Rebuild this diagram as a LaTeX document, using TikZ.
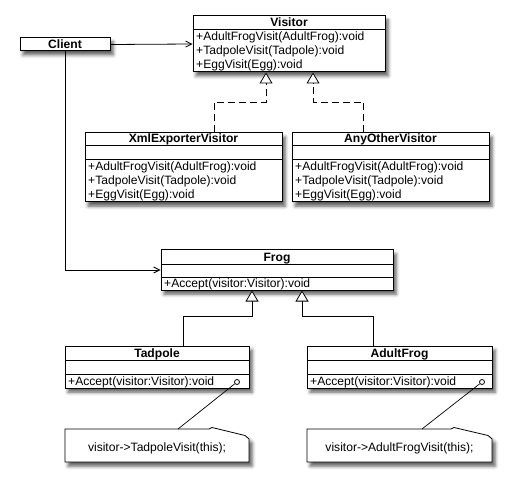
\documentclass[tikz,border=0pt]{standalone}
\usepackage{fontspec}
\setmainfont{Liberation Sans}
\usetikzlibrary{arrows.meta,shadows.blur}
\begin{document}
\begin{tikzpicture}[x=1pt,y=-1pt,
  shd/.style={blur shadow={shadow xshift=3pt,shadow yshift=-4pt,shadow blur radius=3.5pt,shadow opacity=65}},
  cls/.style={draw,fill=white,line width=1pt,inner sep=0pt,shd},
  sep/.style={line width=0.9pt},
  txt/.style={inner sep=0pt,font=\fontsize{12.1}{14}\selectfont},
  hd/.style={txt,font=\fontsize{12.1}{14}\selectfont\bfseries,anchor=base},
  op/.style={txt,anchor=base west},
  assoc/.style={line width=0.8pt,-{Straight Barb[length=6pt,width=6pt,line width=0.8pt]}},
  gen/.style={line width=0.8pt,-{Triangle[open,length=11pt,width=13pt,fill=white,line width=0.8pt]}},
  real/.style={gen,dash pattern=on 7pt off 4pt},
  notebox/.style={draw,fill=white,line width=0.8pt,shd},
  pin/.style={circle,draw,fill=white,inner sep=0pt,minimum size=5pt,line width=0.8pt}
]
\useasboundingbox (0,0) rectangle (511,486);

% Client
\node[cls,minimum width=90pt,minimum height=13pt] (client) at (65,44.5) {};
\node[hd] (clientT) at (65,48.5) {Client};

% Visitor
\node[cls,minimum width=192pt,minimum height=56pt] (visitor) at (289,44) {};
\draw[sep] (193,29) -- (385,29);
\node[hd] (visitorT) at (289,27) {Visitor};
\node[op] (v1) at (196,41) {+AdultFrogVisit(AdultFrog):void};
\node[op] (v2) at (196,54.8) {+TadpoleVisit(Tadpole):void};
\node[op] (v3) at (196,68.6) {+EggVisit(Egg):void};

% XmlExporterVisitor
\node[cls,minimum width=197pt,minimum height=69pt] (xml) at (183.5,167.5) {};
\draw[sep] (85,145) -- (282,145);
\draw[sep] (85,159) -- (282,159);
\node[hd] (xmlT) at (183.5,143) {XmlExporterVisitor};
\node[op] (x1) at (88,171) {+AdultFrogVisit(AdultFrog):void};
\node[op] (x2) at (88,185) {+TadpoleVisit(Tadpole):void};
\node[op] (x3) at (88,199) {+EggVisit(Egg):void};

% AnyOtherVisitor
\node[cls,minimum width=197pt,minimum height=69pt] (any) at (390.5,167.5) {};
\draw[sep] (292,145) -- (489,145);
\draw[sep] (292,159) -- (489,159);
\node[hd] (anyT) at (390.5,143) {AnyOtherVisitor};
\node[op] (a1) at (295,171) {+AdultFrogVisit(AdultFrog):void};
\node[op] (a2) at (295,185) {+TadpoleVisit(Tadpole):void};
\node[op] (a3) at (295,199) {+EggVisit(Egg):void};

% Frog
\node[cls,minimum width=232pt,minimum height=40pt] (frog) at (277,270) {};
\draw[sep] (161,264) -- (393,264);
\draw[sep] (161,277) -- (393,277);
\node[hd] (frogT) at (277,261.5) {Frog};
\node[op] (f1) at (164,287.5) {+Accept(visitor:Visitor):void};

% Tadpole
\node[cls,minimum width=184pt,minimum height=42pt] (tad) at (157,367) {};
\draw[sep] (65,360) -- (249,360);
\draw[sep] (65,374) -- (249,374);
\node[hd] (tadT) at (157,357.5) {Tadpole};
\node[op] (t1) at (68,385) {+Accept(visitor:Visitor):void};

% AdultFrog
\node[cls,minimum width=185pt,minimum height=42pt] (adult) at (399.5,367) {};
\draw[sep] (307,360) -- (492,360);
\draw[sep] (307,374) -- (492,374);
\node[hd] (adultT) at (399.5,357.5) {AdultFrog};
\node[op] (ad1) at (310,385) {+Accept(visitor:Visitor):void};

% Notes
\path[notebox] (65,429) -- (209,429) -- (212,427.5) -- (245,435.5) -- (249,439) -- (249,462) -- (65,462) -- cycle;
\node[txt,anchor=base] (tnote) at (157,451) {visitor->TadpoleVisit(this);};
\path[notebox] (307,429) -- (451,429) -- (454,427.5) -- (488,435.5) -- (492,439) -- (492,462) -- (307,462) -- cycle;
\node[txt,anchor=base] (anote) at (399.5,451) {visitor->AdultFrogVisit(this);};
\coordinate (tnoteTop) at (178,429);
\coordinate (anoteTop) at (422,429);

% Pins
\node[pin] (tpin) at (237,382) {};
\node[pin] (apin) at (482,382) {};
\draw[line width=0.7pt] (tpin) -- (tnoteTop);
\draw[line width=0.7pt] (apin) -- (anoteTop);

% Associations
\draw[assoc] (client.east) -- (visitor.west);
\draw[assoc] (client.south) |- (frog.west);

% Realizations
\draw[real] ([xshift=30.5pt]xml.north) |- (266,102) -- ([xshift=-23pt]visitor.south);
\draw[real] ([xshift=-27.5pt]any.north) |- (313,102) -- ([xshift=24pt]visitor.south);

% Generalizations
\draw[gen] ([xshift=26pt]tad.north) |- (252,316) -- ([xshift=-25pt]frog.south);
\draw[gen] ([xshift=-26.5pt]adult.north) |- (302,316) -- ([xshift=25pt]frog.south);
\end{tikzpicture}
\end{document}
